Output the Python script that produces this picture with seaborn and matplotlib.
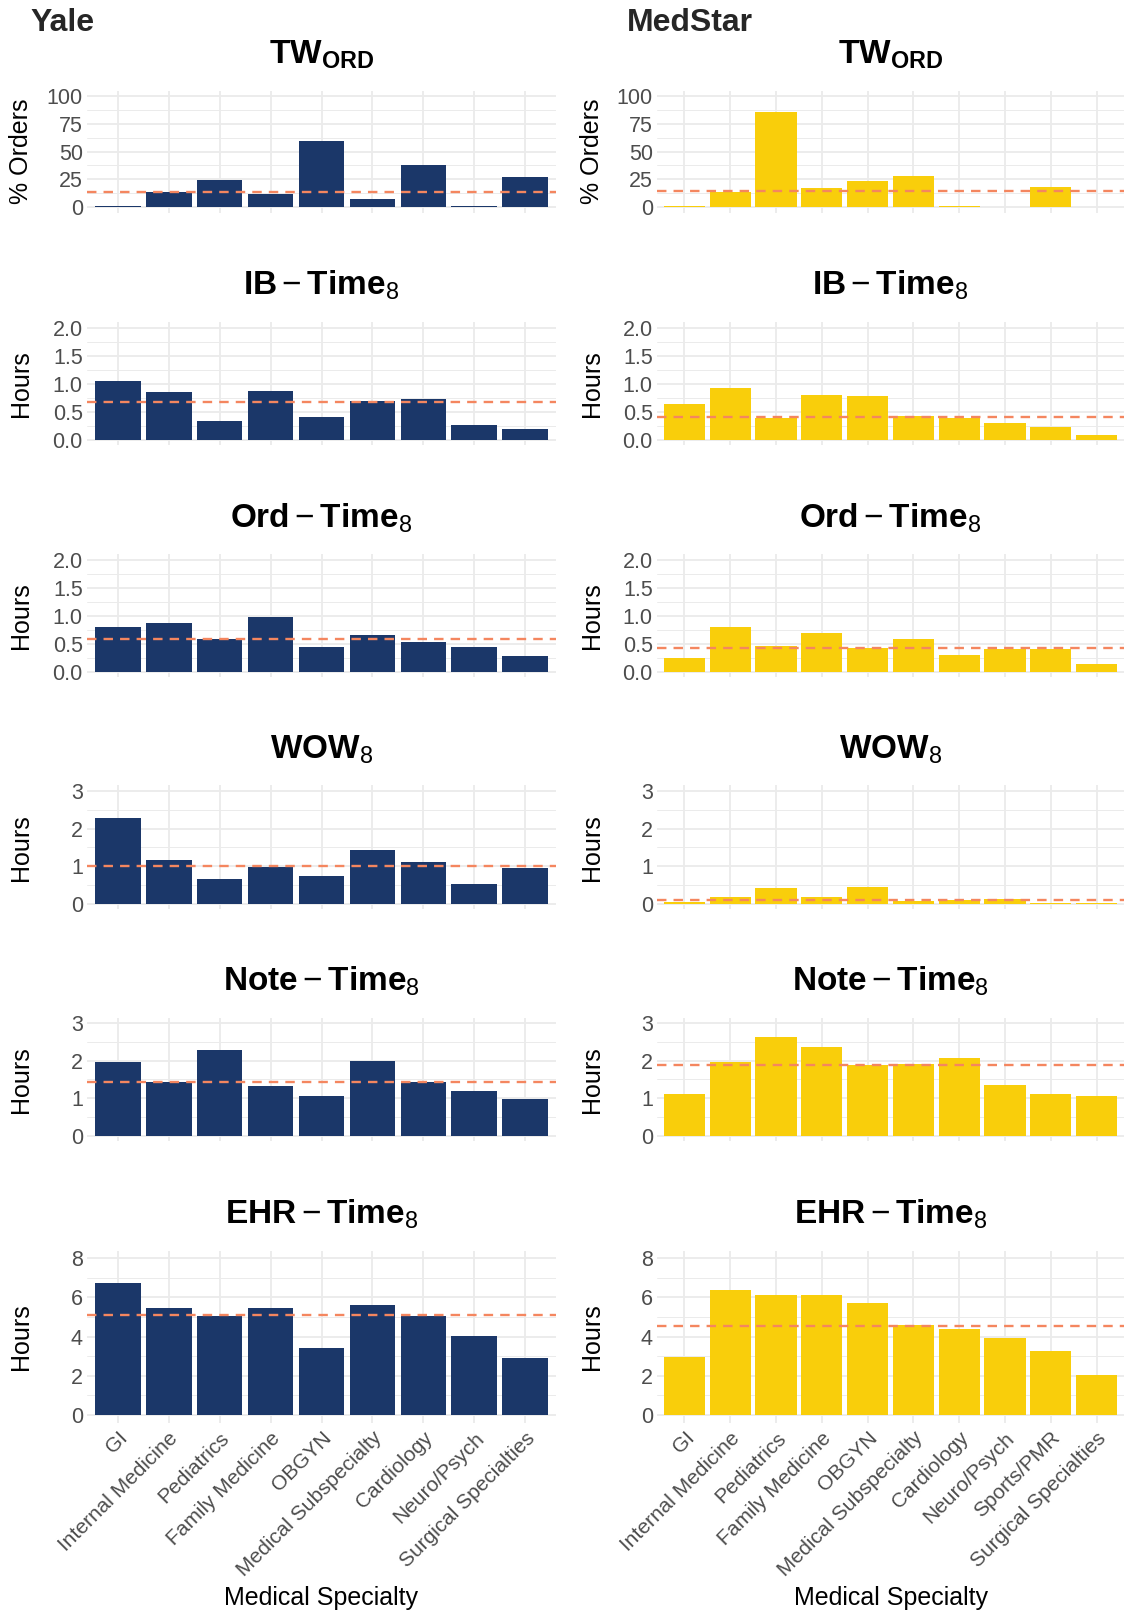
import numpy as np
import pandas as pd
import matplotlib
matplotlib.use("Agg")
import matplotlib.pyplot as plt
import seaborn as sns
from matplotlib.ticker import FixedLocator

# categories
cats_yale = ["GI", "Internal Medicine", "Pediatrics", "Family Medicine", "OBGYN",
             "Medical Subspecialty", "Cardiology", "Neuro/Psych", "Surgical Specialties"]
cats_medstar = ["GI", "Internal Medicine", "Pediatrics", "Family Medicine", "OBGYN",
                "Medical Subspecialty", "Cardiology", "Neuro/Psych", "Sports/PMR",
                "Surgical Specialties"]

# values
yale_tw = [1.2, 13.7, 24.5, 12.0, 59.4, 7.5, 38.0, 0.5, 27.0]
medstar_tw = [1.2, 13.3, 86.0, 17.5, 23.8, 28.3, 1.2, 0.3, 18.4, 0.2]
yale_ib = [1.04, 0.85, 0.33, 0.87, 0.40, 0.69, 0.72, 0.26, 0.19]
medstar_ib = [0.64, 0.93, 0.39, 0.80, 0.78, 0.42, 0.39, 0.30, 0.23, 0.08]
yale_ord = [0.80, 0.87, 0.59, 0.98, 0.44, 0.66, 0.53, 0.44, 0.28]
medstar_ord = [0.25, 0.80, 0.46, 0.70, 0.43, 0.59, 0.30, 0.41, 0.41, 0.14]
yale_wow = [2.28, 1.16, 0.66, 0.98, 0.74, 1.43, 1.11, 0.52, 0.95]
medstar_wow = [0.045, 0.18, 0.42, 0.18, 0.45, 0.07, 0.10, 0.125, 0.02, 0.01]
yale_note = [1.97, 1.43, 2.29, 1.33, 1.06, 1.99, 1.43, 1.19, 0.98]
medstar_note = [1.12, 1.97, 2.64, 2.38, 1.89, 1.92, 2.08, 1.36, 1.12, 1.06]
yale_ehr = [6.74, 5.46, 5.06, 5.46, 3.42, 5.62, 5.06, 4.03, 2.91]
medstar_ehr = [2.96, 6.38, 6.13, 6.13, 5.72, 4.60, 4.39, 3.93, 3.27, 2.04]

# overall means (dashed lines)
yale_means = [13.5, 0.68, 0.59, 0.99, 1.42, 5.09]
medstar_means = [14.8, 0.41, 0.43, 0.11, 1.89, 4.54]

titles = [r"$\mathbf{TW}_{\mathbf{ORD}}$",
          r"$\mathbf{IB} - \mathbf{Time}_{8}$",
          r"$\mathbf{Ord} - \mathbf{Time}_{8}$",
          r"$\mathbf{WOW}_{8}$",
          r"$\mathbf{Note} - \mathbf{Time}_{8}$",
          r"$\mathbf{EHR} - \mathbf{Time}_{8}$"]
ylabels = ["% Orders", "Hours", "Hours", "Hours", "Hours", "Hours"]
ymax = [100, 2, 2, 3, 3, 8]
ystep = [25, 0.5, 0.5, 1, 1, 2]

sns.set_theme(style="white")
plt.rcParams["font.family"] = ["Liberation Sans", "DejaVu Sans"]
plt.rcParams["mathtext.fontset"] = "custom"
plt.rcParams["mathtext.rm"] = "Liberation Sans"
plt.rcParams["mathtext.bf"] = "Liberation Sans:bold"
plt.rcParams["mathtext.it"] = "Liberation Sans:italic"

W, H = 1124, 1616
fig = plt.figure(figsize=(W / 100, H / 100), dpi=100)

# panel boxes in pixels (top, bottom)
rows_px = [(90.5, 212.5), (322, 445.3), (554.4, 677.3),
           (785.4, 909.3), (1017.7, 1141.3), (1250.5, 1422.8)]
cols_px = [(87, 556), (657, 1124)]

navy = "#1B3769"
gold = "#F9CE0B"
dash_col = "#F4865F"
grid_col = "#EBEBEB"

datasets = [
    (cats_yale, [yale_tw, yale_ib, yale_ord, yale_wow, yale_note, yale_ehr], yale_means, navy),
    (cats_medstar, [medstar_tw, medstar_ib, medstar_ord, medstar_wow, medstar_note, medstar_ehr], medstar_means, gold),
]

for c, (cats, series, means, colr) in enumerate(datasets):
    x0, x1 = cols_px[c]
    for r in range(6):
        t, b = rows_px[r]
        ax = fig.add_axes([x0 / W, 1 - b / H, (x1 - x0) / W, (b - t) / H])
        df = pd.DataFrame({"cat": cats, "val": series[r]})
        sns.barplot(data=df, x="cat", y="val", color=colr, width=0.9,
                    saturation=1, edgecolor="none", linewidth=0, ax=ax, zorder=2)
        n = len(cats)
        ax.set_xlim(-0.6, n - 0.4)
        top = ymax[r]
        ax.set_ylim(-0.05 * top, 1.05 * top)
        major = np.arange(0, top + ystep[r] / 2, ystep[r])
        ax.yaxis.set_major_locator(FixedLocator(major))
        ax.yaxis.set_minor_locator(FixedLocator(major[:-1] + ystep[r] / 2))
        if ystep[r] < 1:
            ax.set_yticklabels([f"{v:.1f}" for v in major])
        else:
            ax.set_yticklabels([f"{int(v)}" for v in major])
        ax.axhline(means[r], color=dash_col, lw=1.7, ls=(0, (4, 3)), zorder=3)

        ax.grid(True, which="major", color=grid_col, lw=1.3, zorder=0)
        ax.grid(True, which="minor", axis="y", color=grid_col, lw=0.7, zorder=0)
        ax.set_axisbelow(True)
        for s in ax.spines.values():
            s.set_visible(False)
        ax.tick_params(axis="both", which="both", length=0, labelsize=15.5,
                       labelcolor="#4D4D4D", pad=3)

        ax.set_ylabel(ylabels[r], fontsize=18, color="black")
        ax.yaxis.set_label_coords(-0.14, 0.5)
        ax.yaxis.label.set_va("center")

        ax.text(0.5, 1 + 27 / (b - t), titles[r], transform=ax.transAxes,
                ha="center", va="baseline", fontsize=24, color="black")

        if r == 5:
            ax.set_xticks(range(n))
            ax.set_xticklabels(cats, rotation=45, ha="right", rotation_mode="anchor",
                               fontsize=15, color="#4D4D4D")
            ax.tick_params(axis="x", pad=4)
            ax.set_xlabel("Medical Specialty", fontsize=18, color="black")
            ax.xaxis.set_label_coords(0.5, (b - 1598) / (b - t))
            ax.xaxis.label.set_va("center")
        else:
            ax.set_xticklabels([])
            ax.set_xlabel("")

fig.text(30 / W, 1 - 23 / H, "Yale", fontsize=23, fontweight="bold", va="center", ha="left")
fig.text(627 / W, 1 - 23 / H, "MedStar", fontsize=23, fontweight="bold", va="center", ha="left")

fig.savefig("out.png", dpi=100)
